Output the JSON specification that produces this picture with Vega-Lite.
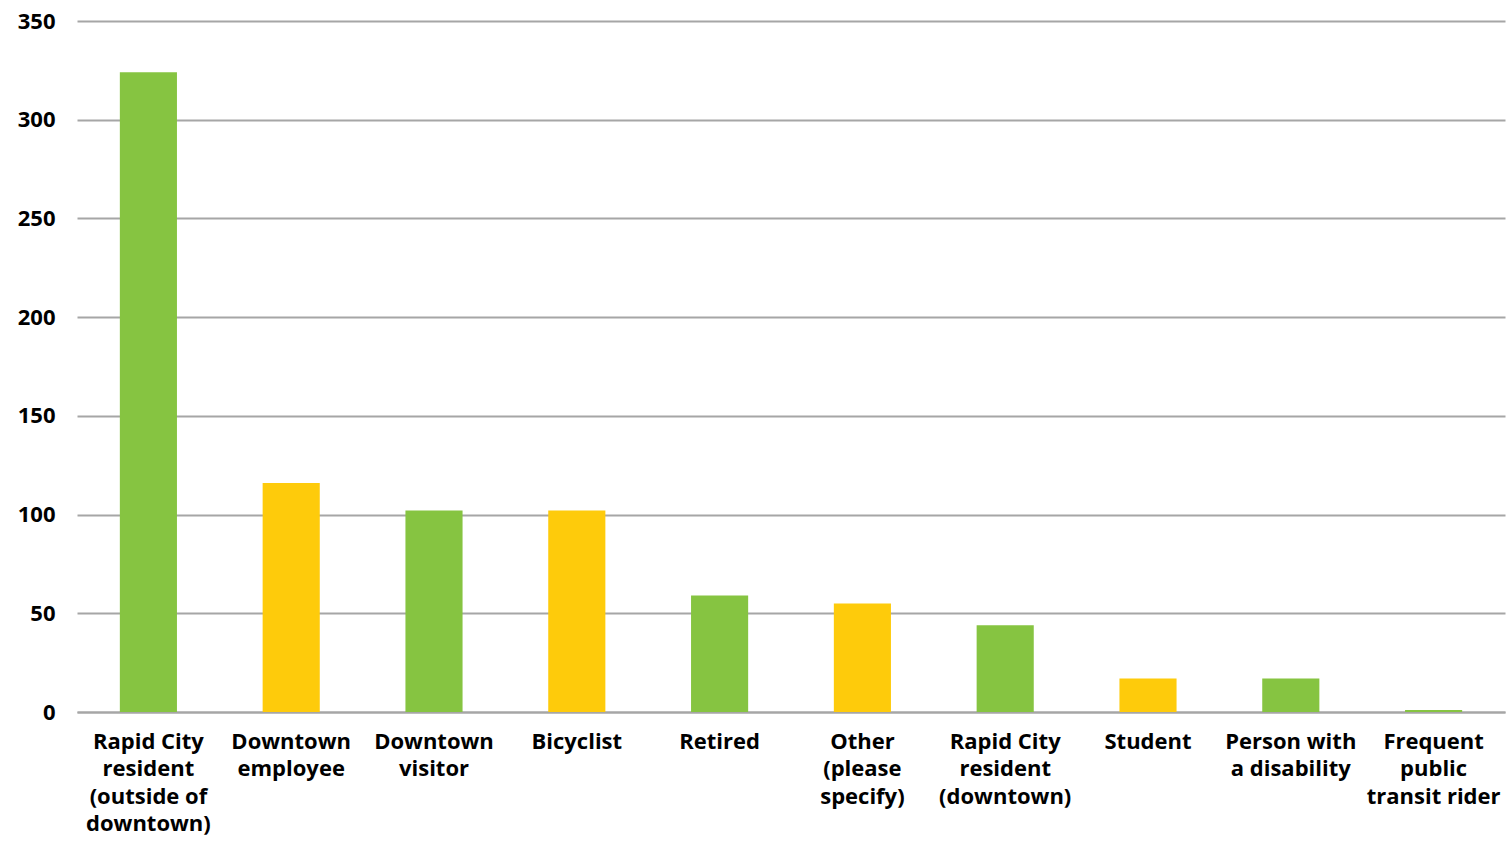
{
  "$schema": "https://vega.github.io/schema/vega-lite/v6.json",
  "width": 1428,
  "height": 691,
  "autosize": {"type": "none"},
  "padding": {"left": 77, "top": 21, "right": 7, "bottom": 129},
  "background": "white",
  "data": {
    "values": [
      {"category": "Rapid City|resident|(outside of|downtown)", "count": 324},
      {"category": "Downtown|employee", "count": 116},
      {"category": "Downtown|visitor", "count": 102},
      {"category": "Bicyclist", "count": 102},
      {"category": "Retired", "count": 59},
      {"category": "Other|(please|specify)", "count": 55},
      {"category": "Rapid City|resident|(downtown)", "count": 44},
      {"category": "Student", "count": 17},
      {"category": "Person with|a disability", "count": 17},
      {"category": "Frequent|public|transit rider", "count": 1}
    ]
  },
  "mark": {"type": "bar"},
  "encoding": {
    "x": {
      "field": "category",
      "type": "nominal",
      "sort": null,
      "scale": {"paddingInner": 0.6, "paddingOuter": 0.3},
      "axis": {
        "title": null,
        "labelAngle": 0,
        "labelExpr": "split(datum.value, '|')",
        "labelFont": "Open Sans",
        "labelFontWeight": "bold",
        "labelFontSize": 22,
        "labelLineHeight": 27.5,
        "labelColor": "#000000",
        "labelPadding": 19,
        "labelBaseline": "top",
        "ticks": false,
        "domain": true,
        "domainColor": "#A6A6A6",
        "domainWidth": 2,
        "grid": false
      }
    },
    "y": {
      "field": "count",
      "type": "quantitative",
      "scale": {"domain": [0, 350], "nice": false},
      "axis": {
        "title": null,
        "values": [0, 50, 100, 150, 200, 250, 300, 350],
        "labelFont": "Open Sans",
        "labelFontWeight": "bold",
        "labelFontSize": 22,
        "labelColor": "#000000",
        "labelPadding": 22,
        "ticks": false,
        "domain": false,
        "grid": true,
        "gridColor": "#A6A6A6",
        "gridWidth": 2
      }
    },
    "color": {
      "field": "category",
      "type": "nominal",
      "sort": null,
      "legend": null,
      "scale": {
        "range": ["#86C441", "#FECB0B", "#86C441", "#FECB0B", "#86C441", "#FECB0B", "#86C441", "#FECB0B", "#86C441", "#86C441"]
      }
    }
  },
  "config": {
    "view": {"stroke": null}
  }
}
